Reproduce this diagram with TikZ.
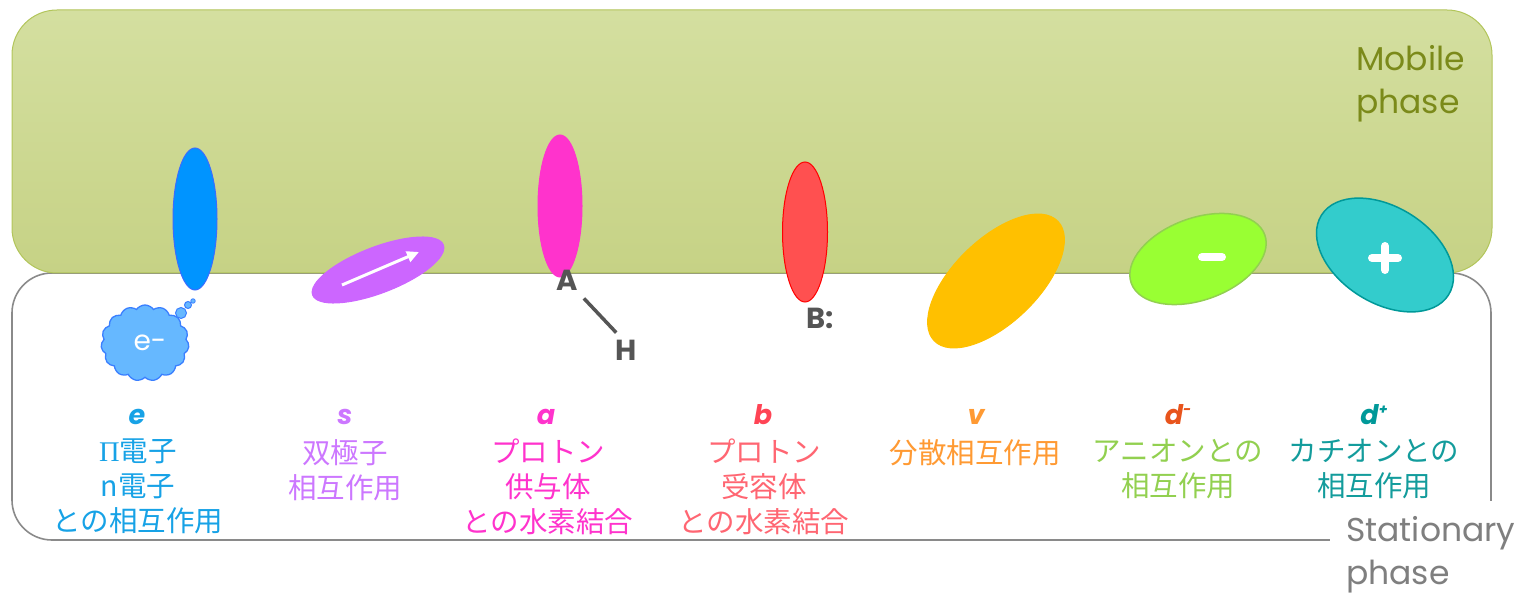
\documentclass[tikz,border=0pt]{standalone}
\usepackage{fontspec}
\setmainfont{Poppins}
\newfontfamily\jp{Noto Sans CJK JP}
\newfontfamily\grk{Liberation Serif}
\usetikzlibrary{shapes.geometric,shapes.symbols,arrows.meta,calc}
\definecolor{mobtop}{HTML}{D4DFA0}
\definecolor{mobbot}{HTML}{C6D285}
\definecolor{mobedge}{HTML}{B2C55A}
\definecolor{mobtext}{HTML}{7B8A1A}
\definecolor{statedge}{HTML}{8A8A8A}
\definecolor{stattext}{HTML}{7F7F7F}
\definecolor{atom}{HTML}{555555}
\definecolor{ecol}{HTML}{17A2E6}
\definecolor{eblue}{HTML}{0094FF}
\definecolor{eedge}{HTML}{3A6CFF}
\definecolor{cloudfill}{HTML}{66B8FF}
\definecolor{cloudedge}{HTML}{3A7FFF}
\definecolor{scol}{HTML}{CC77FF}
\definecolor{sfill}{HTML}{CC66FF}
\definecolor{acol}{HTML}{FF33CC}
\definecolor{bcol}{HTML}{FF6672}
\definecolor{bletter}{HTML}{FF4455}
\definecolor{bfill}{HTML}{FF5050}
\definecolor{vcol}{HTML}{FF9A33}
\definecolor{vfill}{HTML}{FFC000}
\definecolor{dmletter}{HTML}{E8541C}
\definecolor{dmcol}{HTML}{92D050}
\definecolor{dmfill}{HTML}{99FF33}
\definecolor{dpletter}{HTML}{009999}
\definecolor{dpcol}{HTML}{139C9C}
\definecolor{dpfill}{HTML}{33CCCC}
\tikzset{
  blob/.style={ellipse, inner sep=0pt, outer sep=0pt, line width=1pt},
  letterlab/.style={font=\fontsize{27}{30}\selectfont\bfseries\itshape, anchor=base, inner sep=0pt},
  jplab/.style={font=\jp\fontsize{28.5}{35}\selectfont, align=center, anchor=north, inner sep=0pt},
  atomlab/.style={font=\fontsize{29}{32}\selectfont\bfseries, text=atom, inner sep=0pt},
  phaselab/.style={font=\fontsize{33}{43}\selectfont, align=left, inner sep=0pt},
  sign/.style={white, line width=8pt, line cap=round}
}
\begin{document}
\begin{tikzpicture}[x=1pt,y=-1pt]
\useasboundingbox (0,0) rectangle (1527,596);
% stationary phase box
\draw[statedge, line width=1.6pt, rounded corners=40pt] (12,273) rectangle (1491,540);
% mobile phase box
\shade[top color=mobtop, bottom color=mobbot, draw=mobedge, line width=1pt, rounded corners=45pt] (12,10) rectangle (1492,273);
% cover for stationary label
\fill[white] (1330,501) rectangle (1527,596);
\node[phaselab, text=mobtext, anchor=north west] (mob) at (1356,45) {Mobile\\phase};
\node[phaselab, text=stattext, anchor=north west] (stat) at (1346,516) {Stationary\\phase};

% e : pi electrons
\node[blob, fill=eblue, draw=eedge, minimum width=44pt, minimum height=142pt] (eell) at (195,219) {};
\node[cloud, cloud puffs=15, cloud puff arc=110, aspect=1.17, minimum width=88pt, minimum height=76pt, inner sep=0pt, fill=cloudfill, draw=cloudedge, line width=1.3pt] (cloud) at (145,343) {};
\node[circle, fill=cloudfill, draw=cloudedge, line width=1pt, minimum size=11pt, inner sep=0pt] (b1) at (181,313) {};
\node[circle, fill=cloudfill, draw=cloudedge, line width=1pt, minimum size=7pt, inner sep=0pt] (b2) at (188,305) {};
\node[circle, fill=cloudfill, draw=cloudedge, line width=0.8pt, minimum size=4.5pt, inner sep=0pt] (b3) at (193,301) {};
\node[text=white, font=\fontsize{28}{30}\selectfont, inner sep=0pt] (elab) at (150,343) {e-};

% s : dipole
\node[blob, fill=sfill, draw=sfill, minimum width=140pt, minimum height=46pt, rotate=21] (sell) at (378,270) {};
\coordinate (sa) at (342,285);
\coordinate (sb) at (419,252);
\draw[white, line width=3pt, -{Triangle[width=11pt,length=12pt]}] (sa) -- (sb);

% a : proton donor
\node[blob, fill=acol, draw=acol, minimum width=44pt, minimum height=142pt] (aell) at (560,206) {};
\node[atomlab] (A) at (567,280) {A};
\node[atomlab] (H) at (626,350) {H};
\draw[atom, line width=3.5pt] ($(A.south east)+(6,8)$) -- ($(H.north west)+(1,-7)$);

% b : proton acceptor
\node[blob, fill=bfill, draw=red, minimum width=45pt, minimum height=140pt] (bell) at (805,232) {};
\node[atomlab] (B) at (820,318) {B:};

% v : dispersion
\node[blob, fill=vfill, draw=vfill, minimum width=172pt, minimum height=84pt, rotate=44] (vell) at (996,281) {};

% d- : anion
\node[blob, fill=dmfill, draw=dmcol, line width=1.5pt, minimum width=142pt, minimum height=82pt, rotate=20] (dmell) at (1198,259) {};
\draw[sign] ($(dmell.center)+(4,-2)$) -- ($(dmell.center)+(24,-2)$);

% d+ : cation
\node[blob, fill=dpfill, draw=dpletter, line width=1.5pt, minimum width=150pt, minimum height=96pt, rotate=-32] (dpell) at (1385,255) {};
\draw[sign] ($(dpell.center)+(-13,3)$) -- ($(dpell.center)+(13,3)$);
\draw[sign] ($(dpell.center)+(0,-9)$) -- ($(dpell.center)+(0,15)$);

% labels
\node[letterlab, text=ecol] (le) at (137,424) {e};
\node[letterlab, text=scol] (ls) at (345,424) {s};
\node[letterlab, text=acol] (la) at (546,424) {a};
\node[letterlab, text=bletter] (lb) at (763,424) {b};
\node[letterlab, text=vcol] (lv) at (976,424) {v};
\node[letterlab, text=dmletter] (ldm) at (1178,424) {d\raisebox{0.35em}{\fontsize{14}{14}\selectfont -}};
\node[letterlab, text=dpletter] (ldp) at (1374,424) {d\raisebox{0.35em}{\fontsize{14}{14}\selectfont +}};

\node[jplab, text=ecol] (te) at (138,439) {{\grk Π}電子\\n電子\\との相互作用};
\node[jplab, text=scol] (ts) at (345,439) {双極子\\相互作用};
\node[jplab, text=acol] (ta) at (548,439) {プロトン\\供与体\\との水素結合};
\node[jplab, text=bcol] (tb) at (764,439) {プロトン\\受容体\\との水素結合};
\node[jplab, text=vcol] (tv) at (975,439) {分散相互作用};
\node[jplab, text=dmcol] (tdm) at (1178,439) {アニオンとの\\相互作用};
\node[jplab, text=dpcol] (tdp) at (1374,439) {カチオンとの\\相互作用};
\end{tikzpicture}
\end{document}
